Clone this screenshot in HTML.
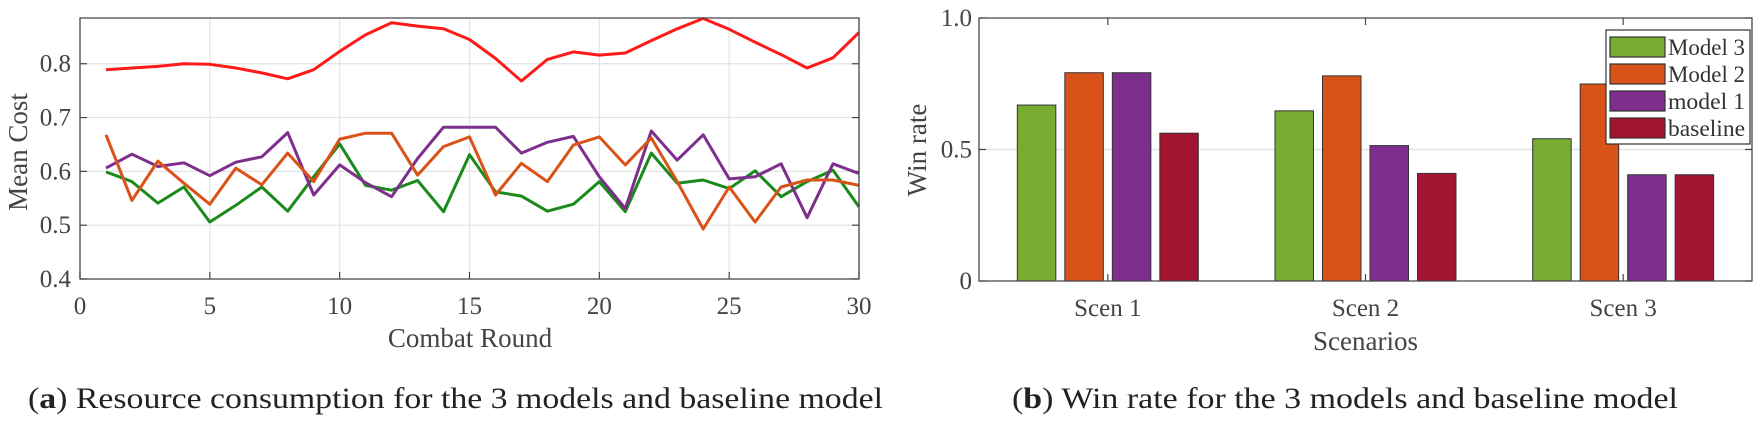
<!DOCTYPE html>
<html><head><meta charset="utf-8"><style>
html,body{margin:0;padding:0;background:#fff;}
svg{display:block;font-family:"Liberation Serif",serif;}
</style></head><body>
<svg id="fig" width="1753" height="426" viewBox="0 0 1753 426" xmlns="http://www.w3.org/2000/svg">
<g id="left"></g>
<g id="right"></g>
<text x="28" y="408" font-size="30" fill="#222" textLength="855" lengthAdjust="spacingAndGlyphs">(<tspan font-weight="bold">a</tspan>) Resource consumption for the 3 models and baseline model</text>
<text x="1012" y="408" font-size="30" fill="#222" textLength="666" lengthAdjust="spacingAndGlyphs">(<tspan font-weight="bold">b</tspan>) Win rate for the 3 models and baseline model</text>
</svg>
<script>
const rounds=[1,2,3,4,5,6,7,8,9,10,11,12,13,14,15,16,17,18,19,20,21,22,23,24,25,26,27,28,29,30];
const baselineCost=[0.789,0.792,0.795,0.800,0.799,0.792,0.783,0.772,0.789,0.823,0.854,0.876,0.870,0.865,0.845,0.810,0.768,0.808,0.822,0.816,0.820,0.843,0.865,0.884,0.864,0.840,0.817,0.792,0.811,0.858];
const model1Cost=[0.606,0.632,0.609,0.616,0.592,0.617,0.627,0.672,0.556,0.612,0.579,0.553,0.624,0.682,0.682,0.682,0.634,0.654,0.665,0.590,0.531,0.675,0.621,0.668,0.586,0.590,0.614,0.514,0.614,0.596];
const model2Cost=[0.668,0.546,0.619,0.578,0.539,0.606,0.575,0.634,0.581,0.660,0.671,0.671,0.593,0.646,0.664,0.556,0.615,0.581,0.649,0.664,0.612,0.662,0.581,0.493,0.571,0.506,0.571,0.584,0.584,0.574];
const model3Cost=[0.599,0.581,0.541,0.571,0.506,0.537,0.571,0.526,0.590,0.651,0.574,0.565,0.583,0.525,0.631,0.562,0.554,0.526,0.539,0.581,0.525,0.634,0.578,0.584,0.568,0.601,0.553,0.581,0.602,0.534];
const xTicks=[0,5,10,15,20,25,30];
const yTicks=[0.4,0.5,0.6,0.7,0.8];
const scenarios=["Scen 1","Scen 2","Scen 3"];
const winModel3=[0.669,0.647,0.541];
const winModel2=[0.792,0.780,0.749];
const winModel1=[0.792,0.515,0.404];
const winBaseline=[0.562,0.409,0.404];
const winTicks=[0,0.5,1.0];
const winTickLabels=["0","0.5","1.0"];
const legendLabels=["Model 3","Model 2","model 1","baseline"];

const NS="http://www.w3.org/2000/svg";
function mk(parent,tag,attrs,text){const e=document.createElementNS(NS,tag);for(const k in attrs)e.setAttribute(k,attrs[k]);if(text!==undefined)e.textContent=text;parent.appendChild(e);return e;}

// LEFT
const L=document.getElementById('left');
const lx0=80,lx1=859,ly0=279,ly1=18,ymin=0.4,ymax=0.885;
const sx=v=>lx0+(v-0)/(30-0)*(lx1-lx0);
const sy=v=>ly0-(v-ymin)/(ymax-ymin)*(ly0-ly1);
xTicks.forEach(t=>{
 const g=mk(L,'line',{x1:sx(t),x2:sx(t),y1:ly1,y2:ly0,stroke:'#e3e3e3','stroke-width':1.2});
 
 const tk=mk(L,'line',{x1:sx(t),x2:sx(t),y1:ly0,y2:ly0-7,stroke:'#444','stroke-width':1.2});
 
 const lb=mk(L,'text',{x:sx(t),y:314,'font-size':25,'text-anchor':'middle',fill:'#444'},String(t));
 
});
yTicks.forEach(t=>{
 const g=mk(L,'line',{x1:lx0,x2:lx1,y1:sy(t),y2:sy(t),stroke:'#e3e3e3','stroke-width':1.2});
 
 const tk=mk(L,'line',{x1:lx0,x2:lx0+7,y1:sy(t),y2:sy(t),stroke:'#444','stroke-width':1.2});
 
 const tk2=mk(L,'line',{x1:lx1,x2:lx1-7,y1:sy(t),y2:sy(t),stroke:'#444','stroke-width':1.2});
 
 const lb=mk(L,'text',{x:71,y:sy(t)+8,'font-size':25,'text-anchor':'end',fill:'#444'},t.toFixed(1));
 
});
const series=[[baselineCost,'#ff1a1a','baseline-line'],[model1Cost,'#7e2f8e','model1-line'],[model2Cost,'#d95319','model2-line'],[model3Cost,'#1a8a1a','model3-line']];
[series[3],series[1],series[2],series[0]].forEach(s=>{
 const pts=rounds.map((r,i)=>sx(r).toFixed(1)+','+sy(s[0][i]).toFixed(1)).join(' ');
 const p=mk(L,'polyline',{points:pts,fill:'none',stroke:s[1],'stroke-width':3,'stroke-linejoin':'round'});
 
});
const lbox=mk(L,'path',{d:`M${lx0},${ly1}H${lx1}V${ly0}H${lx0}Z`,fill:'none',stroke:'#444','stroke-width':1.3});

const xt=mk(L,'text',{x:470,y:347,'font-size':27,'text-anchor':'middle',fill:'#444'},'Combat Round');

const yt=mk(L,'text',{x:0,y:0,'font-size':27,'text-anchor':'middle',fill:'#444',transform:'translate(27,152) rotate(-90)'},'Mean Cost');


// RIGHT
const R=document.getElementById('right');
const rx0=979,rx1=1752,ry0=281,ry1=18;
const cx=i=>rx0+(i+0.5)/3*(rx1-rx0);
const wy=v=>ry0-v*(ry0-ry1);
const gl=mk(R,'line',{x1:rx0,x2:rx1,y1:wy(0.5),y2:wy(0.5),stroke:'#e3e3e3','stroke-width':1.5});

const barColors=['#77ac30','#d95319','#7e2f8e','#a2142f'];
const barSeries=[winModel3,winModel2,winModel1,winBaseline];
const bw=38.5,step=47.5;
const barNames=['bar-model3','bar-model2','bar-model1','bar-baseline'];
scenarios.forEach((s,i)=>{
 barSeries.forEach((arr,k)=>{
  const x=cx(i)+(k-1.5)*step-bw/2;
  const b=mk(R,'rect',{x:x,y:wy(arr[i]),width:bw,height:wy(0)-wy(arr[i]),fill:barColors[k],stroke:'#333','stroke-width':1});
  
 });
 const tk=mk(R,'line',{x1:cx(i),x2:cx(i),y1:ry1,y2:ry1+7,stroke:'#444','stroke-width':1.2});
 
 const tk2=mk(R,'line',{x1:cx(i),x2:cx(i),y1:ry0,y2:ry0-7,stroke:'#444','stroke-width':1.2});
 
 const lb=mk(R,'text',{x:cx(i),y:316,'font-size':25,'text-anchor':'middle',fill:'#444'},s);
 
});
winTicks.forEach((t,i)=>{
 const tk=mk(R,'line',{x1:rx0,x2:rx0+7,y1:wy(t),y2:wy(t),stroke:'#444','stroke-width':1.2});
 
 const tk2=mk(R,'line',{x1:rx1,x2:rx1-7,y1:wy(t),y2:wy(t),stroke:'#444','stroke-width':1.2});
 
 const lb=mk(R,'text',{x:972,y:wy(t)+8,'font-size':25,'text-anchor':'end',fill:'#444'},winTickLabels[i]);
 
});
const rbox=mk(R,'path',{d:`M${rx0},${ry1}H${rx1}V${ry0}H${rx0}Z`,fill:'none',stroke:'#444','stroke-width':1.3});

const st=mk(R,'text',{x:cx(1),y:350,'font-size':27,'text-anchor':'middle',fill:'#444'},'Scenarios');

const wt=mk(R,'text',{x:0,y:0,'font-size':27,'text-anchor':'middle',fill:'#444',transform:'translate(926,150) rotate(-90)'},'Win rate');

const leg=mk(R,'g',{});

const lr=mk(leg,'rect',{x:1606,y:30,width:144,height:114,fill:'#fff',stroke:'#333','stroke-width':1.2});

legendLabels.forEach((t,k)=>{
 const yy=47+k*27;
 const sw=mk(leg,'rect',{x:1610,y:yy-10,width:55,height:20,fill:barColors[k],stroke:'#333','stroke-width':1.2});
 
 const lt=mk(leg,'text',{x:1668,y:yy+8,'font-size':23,fill:'#333',textLength:77,lengthAdjust:'spacingAndGlyphs'},t);
 
});
</script>
</body></html>
